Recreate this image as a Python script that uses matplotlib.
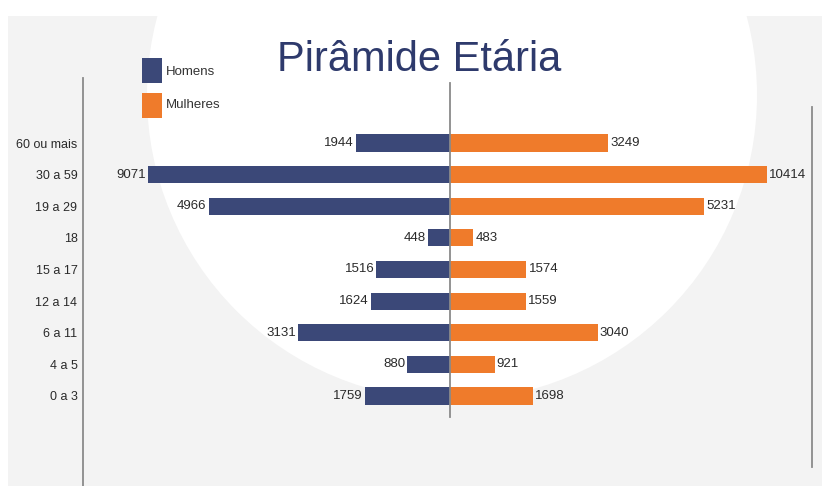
import numpy as np
import matplotlib
matplotlib.use('Agg')
import matplotlib.pyplot as plt
from matplotlib.patches import Rectangle, Circle
from matplotlib.lines import Line2D

# data
faixas = ['60 ou mais', '30 a 59', '19 a 29', '18', '15 a 17', '12 a 14', '6 a 11', '4 a 5', '0 a 3']
homens = [1944, 9071, 4966, 448, 1516, 1624, 3131, 880, 1759]
mulheres = [3249, 10414, 5231, 483, 1574, 1559, 3040, 921, 1698]

AZUL = '#3b4878'
LARANJA = '#ef7b2b'
CINZA_FUNDO = '#f3f3f3'
TEXTO = '#2a2a2a'

plt.rcParams['font.family'] = ['Liberation Sans', 'DejaVu Sans']

# the original squeezes the two largest bars: linear up to T, compressed after
T = 5300.0
K = 0.24

def fwd(v):
    v = np.asarray(v, dtype=float)
    a = np.abs(v)
    return np.sign(v) * np.where(a <= T, a, T + (a - T) * K)

def inv(u):
    u = np.asarray(u, dtype=float)
    b = np.abs(u)
    return np.sign(u) * np.where(b <= T, b, T + (b - T) / K)

W, H = 827, 486
fig = plt.figure(figsize=(W / 100, H / 100), dpi=100)
fig.patch.set_facecolor('white')

# background: gray panel with a big white disc (behind the axes)
fig.patches.append(Rectangle((0.08, 0.0), 8.14, 4.70, transform=fig.dpi_scale_trans,
                             facecolor=CINZA_FUNDO, edgecolor='none', zorder=-3))
fig.patches.append(Circle((4.52, 3.91), 3.05, transform=fig.dpi_scale_trans,
                          facecolor='white', edgecolor='none', zorder=-2))

# axes placed in pixels
x0, x1 = 83, 812
yt, yb = 127.2, 411.8
ax = fig.add_axes([x0 / W, 1 - yb / H, (x1 - x0) / W, (yb - yt) / H])
ax.patch.set_alpha(0)
ax.set_xscale('function', functions=(fwd, inv))
px = 0.0486  # pixels per unit (transformed)
ax.set_xlim(float(inv(-(450 - x0) / px)), float(inv((x1 - 450) / px)))

y = np.arange(len(faixas))
bh = ax.barh(y, -np.array(homens), height=0.54, color=AZUL, zorder=3)
bm = ax.barh(y, mulheres, height=0.54, color=LARANJA, zorder=3)
ax.bar_label(bh, labels=[str(v) for v in homens], padding=1.5, fontsize=9.5, color=TEXTO)
ax.bar_label(bm, labels=[str(v) for v in mulheres], padding=1.5, fontsize=9.5, color=TEXTO)

ax.set_ylim(len(faixas) - 0.5, -0.5)
ax.set_yticks(y)
ax.set_yticklabels(faixas, fontsize=9, color=TEXTO)
ax.tick_params(axis='y', length=0, pad=4)
ax.set_xticks([])
ax.minorticks_off()
for s in ax.spines.values():
    s.set_visible(False)

# vertical rules
def vline(x, ya, yb_):
    fig.lines.append(Line2D([x / W, x / W], [1 - ya / H, 1 - yb_ / H], transform=fig.transFigure,
                            color='#8a8a8a', lw=1.3, zorder=5))

vline(450, 83, 417)
vline(83, 78, 486)
vline(812, 107, 467)

# title
fig.text(419 / W, 1 - 60 / H, 'Pirâmide Etária', fontsize=30, color='#2e3a6c',
         ha='center', va='center')

# legend
fig.patches.append(Rectangle((142 / W, 1 - 83 / H), 20 / W, 25 / H, transform=fig.transFigure,
                             facecolor=AZUL, edgecolor='none'))
fig.patches.append(Rectangle((142 / W, 1 - 118 / H), 20 / W, 25 / H, transform=fig.transFigure,
                             facecolor=LARANJA, edgecolor='none'))
fig.text(166 / W, 1 - 72 / H, 'Homens', fontsize=9.5, color='#333333', va='center')
fig.text(166 / W, 1 - 105 / H, 'Mulheres', fontsize=9.5, color='#333333', va='center')

fig.savefig('out.png', dpi=100)
